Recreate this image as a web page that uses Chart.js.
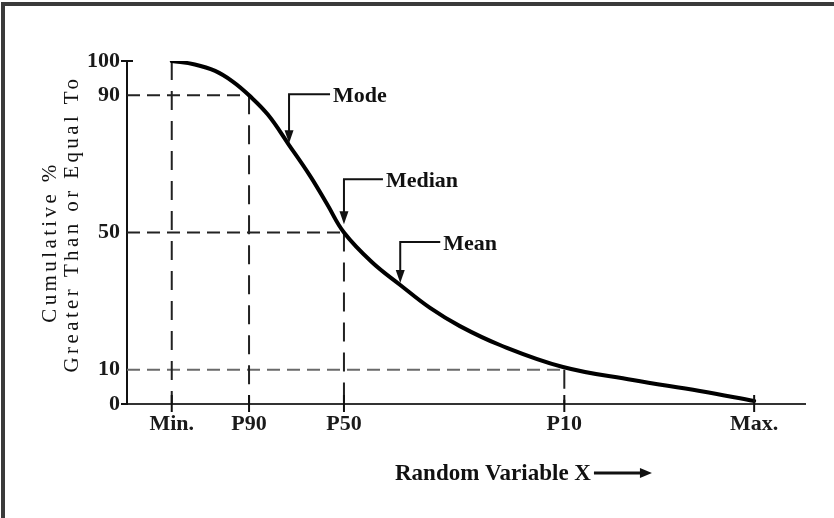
<!DOCTYPE html>
<html><head><meta charset="utf-8">
<script src="https://cdn.jsdelivr.net/npm/chart.js@4.4.1/dist/chart.umd.min.js"></script>
<style>
html,body{margin:0;padding:0;background:#fff;}
#wrap{position:relative;width:834px;height:518px;overflow:hidden;background:#fff;}
#frame{position:absolute;left:1px;top:2px;width:860px;height:560px;border-top:4px solid #3a3a3a;border-left:4px solid #3a3a3a;box-sizing:border-box;}
#wrap canvas{position:absolute;left:0;top:0;}
</style></head><body>
<div id="wrap"><div id="frame"></div><canvas id="c" width="834" height="518"></canvas></div>
<script>
// ---- data ----
const tickNames  = ['Min.', 'P90', 'P50', 'P10', 'Max.'];
const tickValues = [6.6, 18.0, 32.0, 64.5, 92.5];
const tickLevels = [100, 90, 50, 10, 0];
const yTickValues = [0, 10, 50, 90, 100];
const curveX = [6.6, 10.0, 13.0, 15.6, 18.0, 20.8, 23.9, 27.0, 29.5, 32.0, 36.1, 40.3, 44.7, 49.1, 55.0, 64.3, 74.6, 84.5, 92.5];
const curveY = [100, 99.0, 97.1, 94.0, 90, 84.3, 75.5, 66.5, 58.3, 50, 41.4, 34.7, 28.0, 22.7, 17.2, 10.8, 7.0, 3.8, 0.9];
const markerNames = ['Mode', 'Median', 'Mean'];
const markerX = [23.9, 32.0, 40.3];
const markerY = [76.0, 52.4, 35.3];
const yTitleLines = ['Cumulative %', 'Greater Than or Equal To'];
const xTitle = 'Random Variable X';

const SERIF = '"Liberation Serif", "Times New Roman", serif';

const curvePoints = curveX.map((v, i) => ({x: v, y: curveY[i]}));

const guideSets = [];
tickValues.forEach((v, i) => {
  const lv = tickLevels[i];
  if (lv <= 0) return;
  guideSets.push({
    data: [{x: v, y: lv}, {x: v, y: 0}],
    borderColor: '#222', borderWidth: 2, borderDash: [19, 11],
    pointRadius: 0, tension: 0, order: 2
  });
  if (lv < 100) {
    guideSets.push({
      data: [{x: 0, y: lv}, {x: v, y: lv}],
      borderColor: lv === 10 ? '#6a6a6a' : '#222', borderWidth: 2, borderDash: [13, 7],
      pointRadius: 0, tension: 0, order: 2
    });
  }
});

const decor = {
  id: 'decor',
  afterDraw(chart) {
    const {ctx, scales: {x, y}} = chart;
    const line = (a, b, c, d) => { ctx.beginPath(); ctx.moveTo(a, b); ctx.lineTo(c, d); ctx.stroke(); };
    ctx.save();
    ctx.strokeStyle = '#111'; ctx.fillStyle = '#111'; ctx.lineWidth = 2;
    // x tick marks crossing the axis
    const y0 = y.getPixelForValue(0);
    tickValues.forEach(v => { const px = x.getPixelForValue(v); line(px, y0 - 9, px, y0 + 8); });
    // y axis end ticks
    const ax = x.left;
    line(ax - 6, y.getPixelForValue(100), ax + 6, y.getPixelForValue(100));
    line(ax - 6, y0, ax, y0);

    // marker arrows
    const stem = [49, 45, 41], arm = [41, 39, 40];
    ctx.font = 'bold 22px ' + SERIF;
    ctx.textBaseline = 'middle'; ctx.textAlign = 'left';
    markerNames.forEach((name, i) => {
      const tx = x.getPixelForValue(markerX[i]), ty = y.getPixelForValue(markerY[i]);
      const top = ty - stem[i], armEnd = tx + arm[i];
      ctx.lineWidth = 2;
      ctx.beginPath(); ctx.moveTo(armEnd, top); ctx.lineTo(tx, top); ctx.lineTo(tx, ty - 10); ctx.stroke();
      ctx.beginPath(); ctx.moveTo(tx - 4.5, ty - 13); ctx.lineTo(tx + 4.5, ty - 13); ctx.lineTo(tx, ty); ctx.closePath(); ctx.fill();
      ctx.fillText(name, armEnd + 3, top + 2);
    });

    // y title (two rotated lines)
    const ca = chart.chartArea;
    const yt = [{dx: -77, cy: 242}, {dx: -55, cy: 224}];
    ctx.font = '21px ' + SERIF;
    ctx.textAlign = 'center';
    try { ctx.letterSpacing = '3.4px'; } catch (e) {}
    yTitleLines.forEach((t, i) => {
      ctx.save();
      ctx.translate(ca.left + yt[i].dx, yt[i].cy);
      ctx.rotate(-Math.PI / 2);
      ctx.fillText(t, 0, 0);
      ctx.restore();
    });
    try { ctx.letterSpacing = '0px'; } catch (e) {}

    // x title with arrow
    const xl = 395, xc = ca.bottom + 69;
    ctx.font = 'bold 23px ' + SERIF;
    ctx.textAlign = 'left';
    ctx.fillText(xTitle, xl, xc + 1);
    const w = ctx.measureText(xTitle).width;
    const s = xl + w + 3, e = s + 58;
    ctx.lineWidth = 3;
    line(s, xc, e - 10, xc);
    ctx.beginPath(); ctx.moveTo(e - 12, xc - 5); ctx.lineTo(e, xc); ctx.lineTo(e - 12, xc + 5); ctx.closePath(); ctx.fill();
    ctx.restore();
  }
};

new Chart(document.getElementById('c'), {
  type: 'line',
  data: {
    datasets: [
      {data: curvePoints, borderColor: '#000', borderWidth: 4, pointRadius: 0,
       tension: 0.4, borderCapStyle: 'round', order: 1},
      ...guideSets
    ]
  },
  options: {
    responsive: false,
    animation: false,
    layout: {padding: {left: 0, top: 61, right: 29, bottom: 64}},
    plugins: {legend: {display: false}, tooltip: {enabled: false}},
    scales: {
      x: {
        type: 'linear', min: 0, max: 100,
        afterBuildTicks: s => { s.ticks = tickValues.map(v => ({value: v})); },
        afterFit: s => { s.height = 50; },
        ticks: {
          callback: (v, i) => tickNames[i],
          font: {family: SERIF, size: 22, weight: 'bold'}, color: '#1a1a1a',
          padding: 7, maxRotation: 0, autoSkip: false
        },
        grid: {display: false, drawTicks: false},
        border: {display: true, color: '#333', width: 2}
      },
      y: {
        min: 0, max: 100,
        afterBuildTicks: s => { s.ticks = yTickValues.map(v => ({value: v})); },
        afterFit: s => { s.width = 127; },
        ticks: {
          font: {family: SERIF, size: 22, weight: 'bold'}, color: '#1a1a1a',
          padding: 7, autoSkip: false
        },
        grid: {display: false, drawTicks: false},
        border: {display: true, color: '#111', width: 2}
      }
    }
  },
  plugins: [decor]
});
</script>
</body></html>
